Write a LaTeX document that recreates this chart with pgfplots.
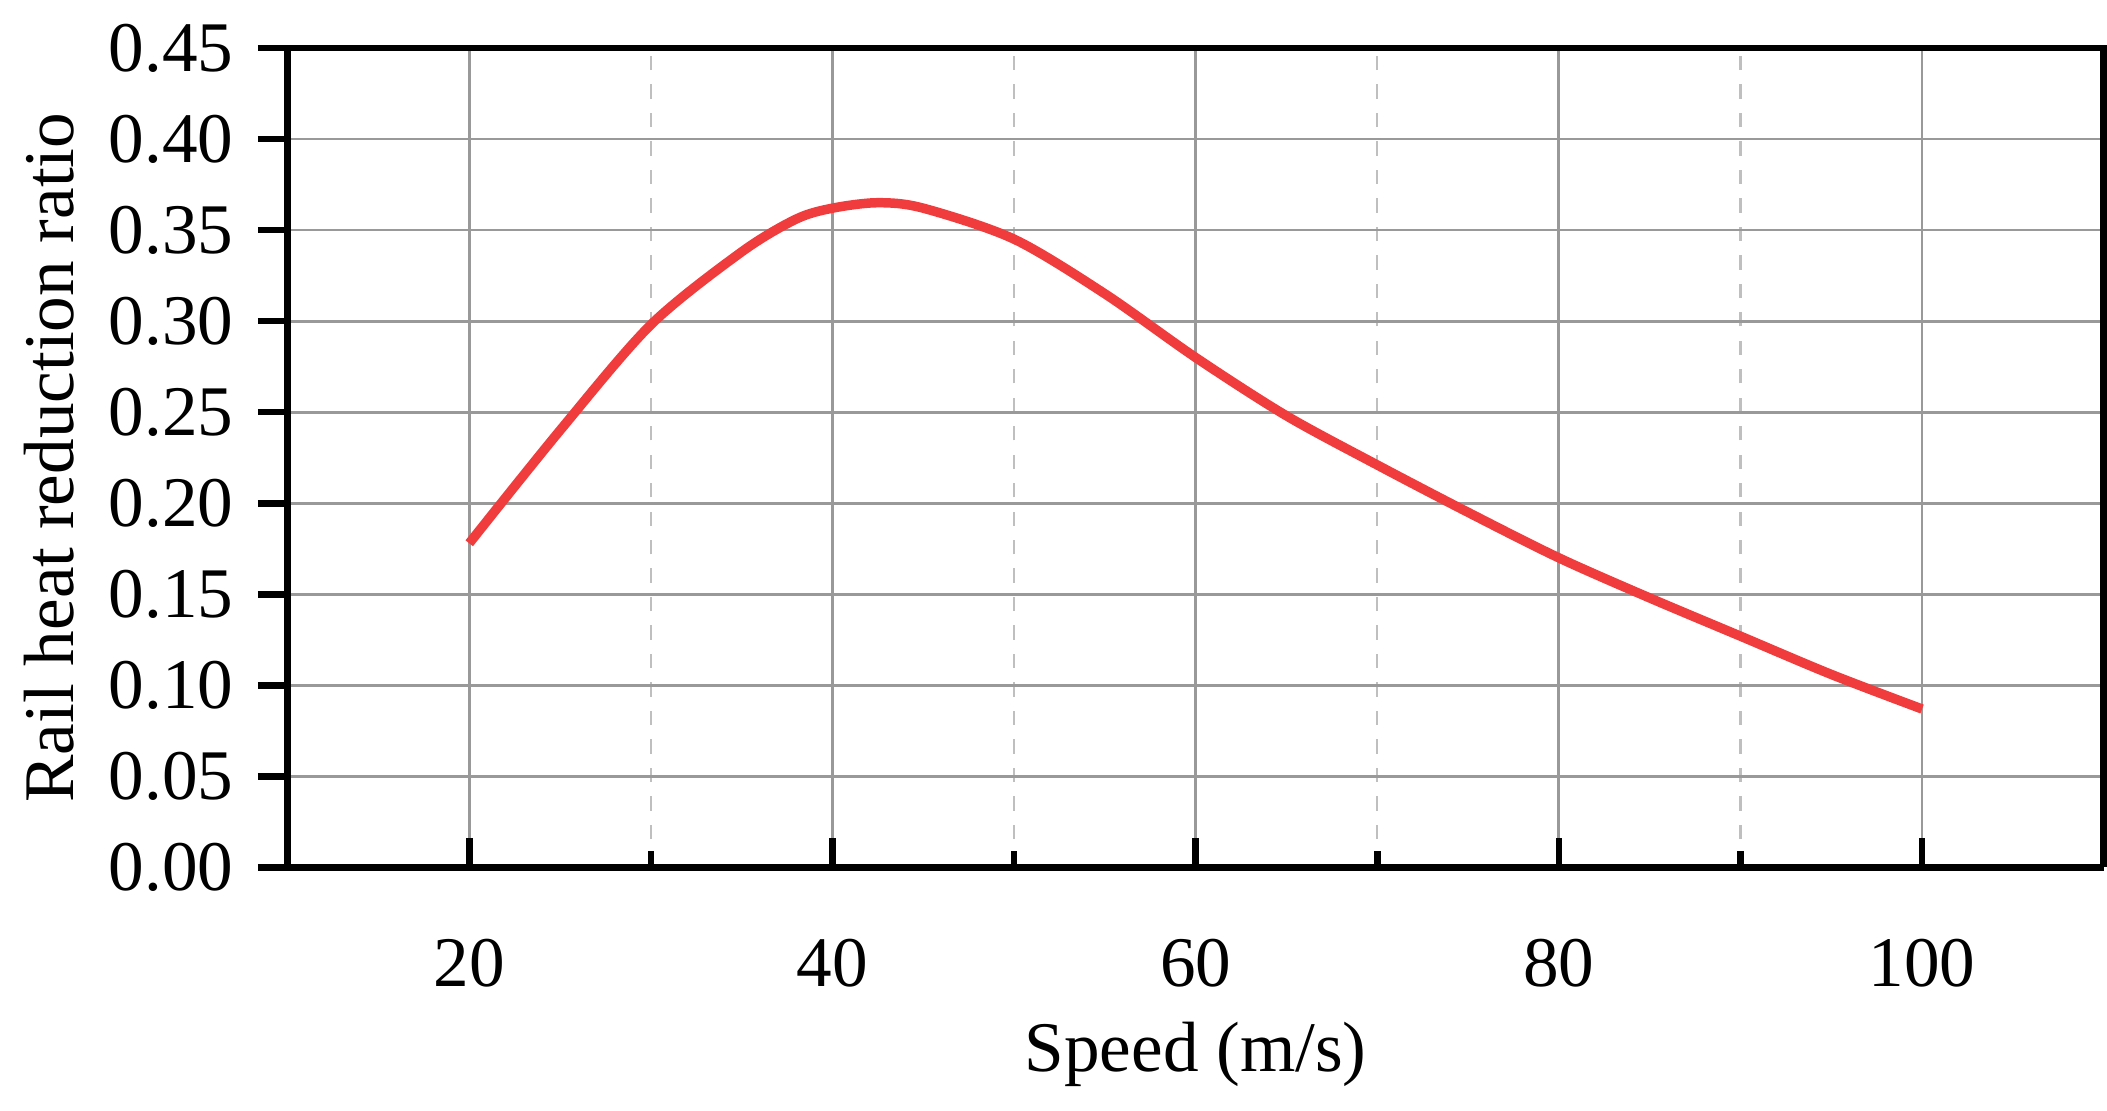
\documentclass[border=0pt]{standalone}
\usepackage{pgfplots}
\pgfplotsset{compat=1.18}
\usepackage{fontspec}
\setmainfont{Liberation Serif}
\begin{document}
\fontsize{15}{17}\selectfont
\begin{tikzpicture}
\begin{axis}[
  scale only axis, width=13.45cm, height=6.07cm,
  xmin=10, xmax=110, ymin=0, ymax=0.45,
  xtick={20,40,60,80,100}, minor xtick={30,50,70,90},
  ytick={0,0.05,...,0.45},
  yticklabel style={/pgf/number format/.cd,fixed,fixed zerofill,precision=2},
  /pgf/number format/assume math mode=true,
  grid=both,
  major grid style={gray!80, line width=0.6pt},
  minor grid style={gray!50, dashed, line width=0.5pt},
  axis line style={line width=1.4pt},
  axis x line*=bottom, axis y line*=left,
  x axis line style={-}, y axis line style={-},
  xtick align=inside, ytick align=outside,
  major tick length=0.22cm, minor tick length=0.12cm,
  tick style={line width=1.4pt, black},
  xticklabel style={yshift=-0.35cm},
  xlabel={Speed (m/s)}, ylabel={Rail heat reduction ratio},
  xlabel style={yshift=0.1cm},
  ylabel style={yshift=-0.1cm},
  clip=false,
]
\draw[line width=1.4pt] (rel axis cs:0,1) -- (rel axis cs:1,1) -- (rel axis cs:1,0);
\addplot[smooth, tension=0.5, color={rgb,255:red,240;green,60;blue,60}, line width=2pt] coordinates {
(20,0.178) (25,0.24) (30,0.298) (35,0.338) (38,0.356) (40,0.362) (42.5,0.365) (45,0.362)
(50,0.345) (55,0.315) (60,0.280) (65,0.248) (70,0.221) (75,0.195) (80,0.170)
(85,0.148) (90,0.127) (95,0.106) (100,0.087)};
\end{axis}
\end{tikzpicture}
\end{document}
